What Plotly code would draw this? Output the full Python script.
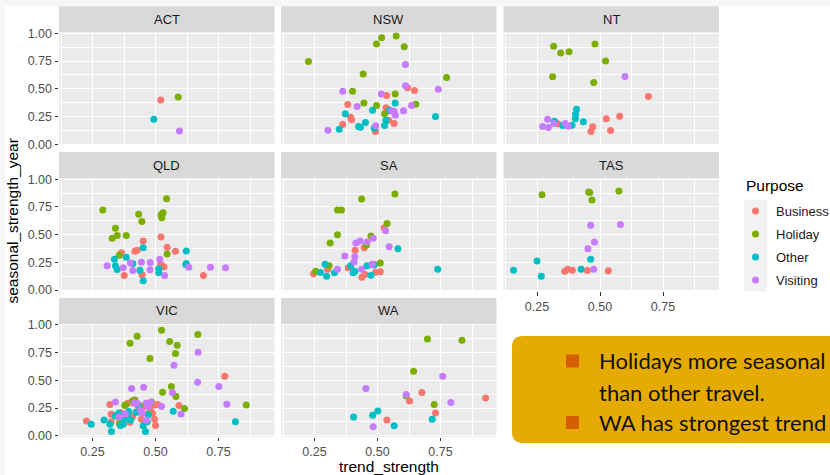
import plotly.graph_objects as go

W, H = 830, 475

PURPOSES = ["Business", "Holiday", "Other", "Visiting"]
COLORS = {"Business": "#F8766D", "Holiday": "#7CAE00", "Other": "#00BFC4", "Visiting": "#C77CFF"}

# (trend_strength, seasonal_strength_year) pairs per state and purpose
act_business = [(0.521, 0.398)]
act_holiday = [(0.590, 0.425)]
act_other = [(0.493, 0.226)]
act_visiting = [(0.595, 0.120)]

nsw_business = [(0.619, 0.509), (0.647, 0.485), (0.536, 0.440), (0.382, 0.358), (0.534, 0.328), (0.393, 0.244),
                (0.397, 0.220), (0.544, 0.217), (0.566, 0.187), (0.362, 0.178), (0.492, 0.114), (0.540, 0.300)]
nsw_holiday = [(0.226, 0.747), (0.496, 0.904), (0.516, 0.961), (0.574, 0.976), (0.606, 0.880), (0.443, 0.633),
               (0.774, 0.602), (0.401, 0.479), (0.570, 0.452), (0.446, 0.373), (0.496, 0.349), (0.652, 0.361),
               (0.528, 0.274)]
nsw_other = [(0.570, 0.373), (0.480, 0.307), (0.548, 0.307), (0.372, 0.274), (0.533, 0.217), (0.452, 0.196),
             (0.425, 0.160), (0.432, 0.154), (0.528, 0.169), (0.487, 0.145), (0.348, 0.136), (0.730, 0.250)]
nsw_visiting = [(0.611, 0.720), (0.611, 0.527), (0.741, 0.497), (0.362, 0.479), (0.515, 0.452), (0.419, 0.340),
                (0.635, 0.349), (0.566, 0.298), (0.571, 0.262), (0.603, 0.301), (0.493, 0.166), (0.303, 0.127),
                (0.556, 0.300)]

nt_business = [(0.692, 0.431), (0.578, 0.253), (0.525, 0.229), (0.471, 0.157), (0.464, 0.114), (0.542, 0.123),
               (0.332, 0.184)]
nt_holiday = [(0.316, 0.883), (0.344, 0.822), (0.377, 0.834), (0.480, 0.904), (0.522, 0.750), (0.312, 0.608),
              (0.475, 0.557)]
nt_other = [(0.407, 0.316), (0.403, 0.271), (0.402, 0.229), (0.434, 0.202), (0.389, 0.172), (0.352, 0.169),
            (0.319, 0.208)]
nt_visiting = [(0.599, 0.611), (0.292, 0.226), (0.272, 0.160), (0.295, 0.151), (0.362, 0.187), (0.374, 0.163),
               (0.317, 0.187)]

qld_business = [(0.451, 0.442), (0.522, 0.478), (0.365, 0.337), (0.418, 0.349), (0.427, 0.358), (0.546, 0.385),
                (0.579, 0.349), (0.520, 0.233), (0.533, 0.209), (0.376, 0.131), (0.447, 0.137), (0.690, 0.131),
                (0.524, 0.220)]
qld_holiday = [(0.291, 0.722), (0.341, 0.558), (0.328, 0.466), (0.348, 0.493), (0.384, 0.493), (0.433, 0.684),
               (0.446, 0.618), (0.530, 0.696), (0.525, 0.651), (0.544, 0.824), (0.546, 0.325), (0.356, 0.313),
               (0.522, 0.680)]
qld_other = [(0.451, 0.382), (0.622, 0.352), (0.622, 0.239), (0.337, 0.278), (0.384, 0.296), (0.341, 0.218),
             (0.348, 0.185), (0.410, 0.239), (0.438, 0.179), (0.451, 0.084), (0.513, 0.191), (0.513, 0.155),
             (0.620, 0.230)]
qld_visiting = [(0.308, 0.218), (0.372, 0.200), (0.400, 0.245), (0.410, 0.176), (0.444, 0.251), (0.479, 0.248),
                (0.478, 0.182), (0.517, 0.278), (0.536, 0.131), (0.632, 0.206), (0.718, 0.206), (0.778, 0.200)]

sa_business = [(0.526, 0.561), (0.447, 0.382), (0.411, 0.358), (0.384, 0.200), (0.302, 0.188), (0.246, 0.146),
               (0.487, 0.230), (0.493, 0.161), (0.511, 0.164), (0.450, 0.140), (0.438, 0.116), (0.478, 0.228)]
sa_holiday = [(0.569, 0.866), (0.437, 0.821), (0.341, 0.722), (0.357, 0.722), (0.538, 0.600), (0.341, 0.499),
              (0.474, 0.487), (0.312, 0.424), (0.456, 0.403), (0.511, 0.245), (0.308, 0.218), (0.255, 0.170)]
sa_other = [(0.581, 0.373), (0.739, 0.188), (0.292, 0.233), (0.274, 0.158), (0.298, 0.125), (0.329, 0.155),
            (0.393, 0.218), (0.410, 0.170), (0.403, 0.155), (0.458, 0.218), (0.474, 0.134), (0.486, 0.225)]
sa_visiting = [(0.532, 0.534), (0.483, 0.466), (0.459, 0.433), (0.431, 0.442), (0.414, 0.424), (0.546, 0.391),
               (0.370, 0.307), (0.410, 0.301), (0.407, 0.254), (0.341, 0.188), (0.437, 0.188), (0.479, 0.233)]

tas_business = [(0.360, 0.170), (0.372, 0.188), (0.390, 0.179), (0.450, 0.176), (0.533, 0.173)]
tas_holiday = [(0.270, 0.860), (0.455, 0.884), (0.575, 0.893), (0.468, 0.812), (0.459, 0.880)]
tas_other = [(0.157, 0.179), (0.250, 0.263), (0.267, 0.125), (0.425, 0.188), (0.463, 0.278)]
tas_visiting = [(0.463, 0.585), (0.581, 0.591), (0.478, 0.433), (0.452, 0.373), (0.475, 0.188)]

vic_business = [(0.775, 0.538), (0.593, 0.273), (0.500, 0.279), (0.496, 0.150), (0.500, 0.093), (0.226, 0.135),
                (0.319, 0.282), (0.324, 0.195), (0.324, 0.126), (0.398, 0.123), (0.409, 0.174), (0.425, 0.219),
                (0.446, 0.249), (0.480, 0.255), (0.488, 0.204), (0.509, 0.282), (0.358, 0.138), (0.361, 0.210),
                (0.414, 0.295), (0.390, 0.295), (0.444, 0.150)]
vic_holiday = [(0.524, 0.952), (0.427, 0.898), (0.399, 0.835), (0.556, 0.850), (0.586, 0.817), (0.579, 0.742),
               (0.668, 0.913), (0.478, 0.697), (0.563, 0.444), (0.528, 0.393), (0.581, 0.354), (0.615, 0.246),
               (0.860, 0.279), (0.378, 0.273), (0.408, 0.315), (0.418, 0.324), (0.484, 0.306), (0.357, 0.108),
               (0.471, 0.198), (0.381, 0.279), (0.440, 0.270)]
vic_other = [(0.245, 0.105), (0.296, 0.144), (0.319, 0.105), (0.325, 0.039), (0.354, 0.204), (0.361, 0.093),
             (0.372, 0.105), (0.385, 0.195), (0.388, 0.174), (0.401, 0.140), (0.374, 0.144), (0.431, 0.273),
             (0.423, 0.210), (0.451, 0.090), (0.460, 0.039), (0.467, 0.126), (0.471, 0.189), (0.570, 0.222),
             (0.817, 0.126), (0.394, 0.219), (0.340, 0.180)]
vic_visiting = [(0.669, 0.754), (0.573, 0.637), (0.667, 0.483), (0.751, 0.444), (0.783, 0.285), (0.601, 0.198),
                (0.567, 0.390), (0.524, 0.264), (0.405, 0.426), (0.453, 0.438), (0.341, 0.306), (0.356, 0.171),
                (0.481, 0.303), (0.462, 0.294), (0.464, 0.144), (0.447, 0.204), (0.427, 0.295), (0.415, 0.300),
                (0.380, 0.200), (0.470, 0.260), (0.440, 0.230)]

wa_business = [(0.929, 0.342), (0.676, 0.390), (0.627, 0.315), (0.730, 0.207), (0.537, 0.144)]
wa_holiday = [(0.698, 0.874), (0.835, 0.862), (0.643, 0.583), (0.614, 0.360), (0.725, 0.282)]
wa_other = [(0.405, 0.171), (0.481, 0.186), (0.501, 0.225), (0.566, 0.090), (0.717, 0.150)]
wa_visiting = [(0.759, 0.538), (0.454, 0.426), (0.614, 0.372), (0.791, 0.300), (0.483, 0.081)]

STATES = ["ACT", "NSW", "NT", "QLD", "SA", "TAS", "VIC", "WA"]
STATE_DATA = {
    "ACT": [act_business, act_holiday, act_other, act_visiting],
    "NSW": [nsw_business, nsw_holiday, nsw_other, nsw_visiting],
    "NT": [nt_business, nt_holiday, nt_other, nt_visiting],
    "QLD": [qld_business, qld_holiday, qld_other, qld_visiting],
    "SA": [sa_business, sa_holiday, sa_other, sa_visiting],
    "TAS": [tas_business, tas_holiday, tas_other, tas_visiting],
    "VIC": [vic_business, vic_holiday, vic_other, vic_visiting],
    "WA": [wa_business, wa_holiday, wa_other, wa_visiting],
}

X_TICKS = [0.25, 0.50, 0.75]
Y_TICKS = [0.00, 0.25, 0.50, 0.75, 1.00]

CALLOUT_LINES = [("Holidays more seasonal", True), ("than other travel.", False), ("WA has strongest trend", True)]

FONT = "Liberation Sans, Arial, sans-serif"


def fx(px):
    return px / W


def fy(py):
    return 1 - py / H


# facet geometry (pixels)
PANEL_LEFT = [59, 281, 503.5]
PANEL_W = 215.5
PANEL_TOP = [32.3, 178.1, 323.9]
PANEL_H = 113
STRIP_H = 26
X_RANGE = [0.117, 0.117 + PANEL_W / 252.0]
Y_RANGE = [-0.0095, 1.0095]

fig = go.Figure()
shapes = []
annotations = []

# page frame: faint off-white edge along the top and left
shapes.append(dict(type="rect", xref="paper", yref="paper", layer="below",
                   x0=0, x1=1, y0=fy(6), y1=1, fillcolor="#F7F7F7", line=dict(width=0)))
shapes.append(dict(type="rect", xref="paper", yref="paper", layer="below",
                   x0=0, x1=fx(5), y0=0, y1=1, fillcolor="#F7F7F7", line=dict(width=0)))

# facet layout, ncol = 3
for i, state in enumerate(STATES):
    r, c = divmod(i, 3)
    n = i + 1
    xa, ya = f"x{n}", f"y{n}"
    left, top = PANEL_LEFT[c], PANEL_TOP[r]
    bottom_of_column = (i + 3) >= len(STATES)
    first_col = c == 0

    for purpose, pts in zip(PURPOSES, STATE_DATA[state]):
        fig.add_trace(go.Scatter(
            x=[p[0] for p in pts], y=[p[1] for p in pts], mode="markers",
            marker=dict(color=COLORS[purpose], size=7, line=dict(width=0)),
            name=purpose, showlegend=False, xaxis=xa, yaxis=ya,
            hovertemplate=f"{state} {purpose}<br>trend=%{{x:.2f}}<br>seasonal=%{{y:.2f}}<extra></extra>",
        ))

    common = dict(showgrid=True, gridcolor="white", gridwidth=1.1, zeroline=False,
                  showline=False, tickformat=".2f", automargin=False,
                  tickfont=dict(family=FONT, size=12.5, color="#4D4D4D"),
                  tickcolor="#333333", ticklen=3.5, tickwidth=1.1)
    fig.layout[f"xaxis{n}"] = dict(
        common, domain=[fx(left), fx(left + PANEL_W)], range=X_RANGE, anchor=ya,
        tickmode="array", tickvals=X_TICKS,
        minor=dict(dtick=0.125, tick0=0.125, showgrid=True, gridcolor="white", gridwidth=0.55, ticks=""),
        showticklabels=bottom_of_column, ticks="outside" if bottom_of_column else "",
    )
    fig.layout[f"yaxis{n}"] = dict(
        common, domain=[fy(top + PANEL_H), fy(top)], range=Y_RANGE, anchor=xa,
        tickmode="array", tickvals=Y_TICKS,
        minor=dict(dtick=0.125, tick0=0.125, showgrid=True, gridcolor="white", gridwidth=0.55, ticks=""),
        showticklabels=first_col, ticks="outside" if first_col else "",
    )

    # strip
    shapes.append(dict(type="rect", xref="paper", yref="paper", layer="below",
                       x0=fx(left), x1=fx(left + PANEL_W), y0=fy(top), y1=fy(top - STRIP_H),
                       fillcolor="#D9D9D9", line=dict(width=0)))
    annotations.append(dict(text=state, xref="paper", yref="paper", showarrow=False,
                            x=fx(left + PANEL_W / 2), y=fy(top - STRIP_H / 2),
                            xanchor="center", yanchor="middle",
                            font=dict(family=FONT, size=13, color="#1A1A1A")))

# axis titles
annotations.append(dict(text="trend_strength", xref="paper", yref="paper", showarrow=False,
                        x=fx((PANEL_LEFT[0] + PANEL_LEFT[2] + PANEL_W) / 2), y=fy(466),
                        xanchor="center", yanchor="middle",
                        font=dict(family=FONT, size=15.5, color="black")))
annotations.append(dict(text="seasonal_strength_year", xref="paper", yref="paper", showarrow=False,
                        x=fx(13), y=fy((PANEL_TOP[0] - STRIP_H + PANEL_TOP[2] + PANEL_H) / 2), textangle=-90,
                        xanchor="center", yanchor="middle",
                        font=dict(family=FONT, size=15.5, color="black")))

# legend
annotations.append(dict(text="Purpose", xref="paper", yref="paper", showarrow=False,
                        x=fx(744), y=fy(185), xanchor="left", yanchor="middle",
                        font=dict(family=FONT, size=15.5, color="black")))
for k, purpose in enumerate(PURPOSES):
    cy = 211 + 23 * k
    shapes.append(dict(type="rect", xref="paper", yref="paper",
                       x0=fx(744), x1=fx(767), y0=fy(cy + 11.5), y1=fy(cy - 11.5),
                       fillcolor="#F2F2F2", line=dict(width=0)))
    shapes.append(dict(type="circle", xref="paper", yref="paper",
                       x0=fx(755.5 - 3.5), x1=fx(755.5 + 3.5), y0=fy(cy + 3.5), y1=fy(cy - 3.5),
                       fillcolor=COLORS[purpose], line=dict(width=0)))
    annotations.append(dict(text=purpose, xref="paper", yref="paper", showarrow=False,
                            x=fx(774), y=fy(cy), xanchor="left", yanchor="middle",
                            font=dict(family=FONT, size=13, color="#1A1A1A")))

# callout box with rounded corners
bx0, bx1, by0, by1, rad = 512, 870, 336, 443, 11
path = (f"M {fx(bx0 + rad)},{fy(by0)} L {fx(bx1 - rad)},{fy(by0)} "
        f"Q {fx(bx1)},{fy(by0)} {fx(bx1)},{fy(by0 + rad)} L {fx(bx1)},{fy(by1 - rad)} "
        f"Q {fx(bx1)},{fy(by1)} {fx(bx1 - rad)},{fy(by1)} L {fx(bx0 + rad)},{fy(by1)} "
        f"Q {fx(bx0)},{fy(by1)} {fx(bx0)},{fy(by1 - rad)} L {fx(bx0)},{fy(by0 + rad)} "
        f"Q {fx(bx0)},{fy(by0)} {fx(bx0 + rad)},{fy(by0)} Z")
shapes.append(dict(type="path", xref="paper", yref="paper", path=path,
                   fillcolor="#E6AB02", line=dict(width=0), layer="above"))
line_y = [360.5, 392, 422]
for (text, bullet), ly in zip(CALLOUT_LINES, line_y):
    if bullet:
        shapes.append(dict(type="rect", xref="paper", yref="paper", layer="above",
                           x0=fx(566), x1=fx(579), y0=fy(ly + 7), y1=fy(ly - 6),
                           fillcolor="#D55E00", line=dict(width=0)))
    annotations.append(dict(text=text, xref="paper", yref="paper", showarrow=False,
                            x=fx(597), y=fy(ly), xanchor="left", yanchor="middle",
                            font=dict(family="Lato, sans-serif", size=22, color="#111111")))

fig.update_layout(
    width=W, height=H, margin=dict(l=0, r=0, t=0, b=0),
    paper_bgcolor="white", plot_bgcolor="#EBEBEB",
    shapes=shapes, annotations=annotations, showlegend=False,
)

fig.write_html("out.html")
